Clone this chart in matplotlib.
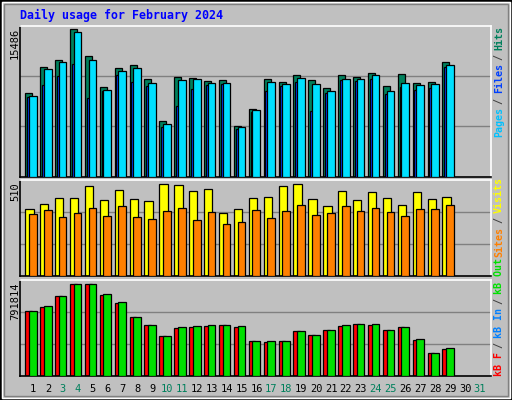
import matplotlib
matplotlib.use("Agg")
import matplotlib.pyplot as plt
from matplotlib.patches import Rectangle

days = list(range(1, 30))
day_labels = [str(d) for d in range(1, 32)]
weekend = [3, 4, 10, 11, 17, 18, 24, 25, 31]

hits = [8760, 11493, 12229, 15486, 12649, 9391, 11388, 11703, 10232, 5817, 10442, 10337, 10021, 10127,
        5291, 7078, 10232, 9916, 10652, 10127, 9286, 10652, 10442, 10862, 9496, 10757, 9811, 9916, 12019]
files = [8445, 11283, 12019, 15172, 12229, 9075, 11073, 11388, 9811, 5501, 10127, 10232, 9811, 9811,
         5186, 6973, 9916, 9706, 10337, 9706, 8970, 10232, 10232, 10652, 8970, 9811, 9601, 9706, 11703]
pages = [8340, 9601, 10547, 11808, 8234, 8970, 10652, 9916, 9496, 5186, 7393, 9180, 9601, 9706,
         4976, 6763, 8970, 9496, 9916, 6868, 8760, 10127, 10021, 10232, 8655, 9391, 9075, 9286, 11493]
visits = [371, 399, 432, 432, 499, 421, 477, 427, 416, 510, 505, 471, 482, 349,
          371, 432, 438, 499, 510, 427, 388, 471, 421, 466, 432, 394, 466, 427, 438]
sites = [344, 366, 327, 349, 377, 333, 388, 327, 316, 360, 377, 310, 355, 288,
         299, 366, 322, 360, 394, 338, 349, 388, 360, 377, 355, 333, 371, 371, 394]
kb_out = [557731, 601078, 687772, 791814, 791814, 705111, 635756, 505715, 436360, 340996, 419021, 427690,
          436360, 436360, 427690, 297649, 297649, 297649, 384343, 349666, 393013, 436360, 445029, 445029,
          393013, 419021, 314988, 193617, 236964]
kb_f = [557731, 592408, 687772, 791814, 791814, 696441, 627086, 505715, 436360, 340996, 410351, 419021,
        427690, 436360, 419021, 297649, 288979, 297649, 384343, 349666, 393013, 427690, 445029, 436360,
        393013, 419021, 306318, 193617, 228294]

W, H = 512, 400
fig = plt.figure(figsize=(W / 100, H / 100), dpi=100, facecolor="#c0c0c0")
mono = "DejaVu Sans Mono"

def fx(x): return x / W
def fy(y): return 1 - y / H

fig.patches.append(Rectangle((0, 0), 1, 1, transform=fig.transFigure, fill=False, ec="black", lw=2))
fig.patches.append(Rectangle((fx(2), fy(398)), fx(508), 396 / H, transform=fig.transFigure, fill=False, ec="white", lw=1))
fig.patches.append(Rectangle((fx(4), fy(396)), fx(504), 392 / H, transform=fig.transFigure, fill=False, ec="#808080", lw=1))

L, R = 20, 491
xlim = (0.13, 31.74)

def make_ax(top, bottom, ymax):
    ax = fig.add_axes([fx(L), fy(bottom), fx(R - L), (bottom - top) / H])
    ax.set_facecolor("#c0c0c0")
    ax.set_xlim(*xlim)
    ax.set_ylim(0, ymax)
    for g in (ymax / 3, 2 * ymax / 3):
        ax.axhline(g, color="#808080", lw=1, zorder=0.5)
    ax.set_xticks([]); ax.set_yticks([])
    for s in ("left", "bottom"):
        ax.spines[s].set_color("black")
    for s in ("top", "right"):
        ax.spines[s].set_color("white")
    for s in ax.spines.values():
        s.set_linewidth(1.2)
    return ax

ax1 = make_ax(25.5, 176.7, 15486 * 151.2 / 147.7)
ax2 = make_ax(180.3, 276.3, 510 * 96 / 92)
ax3 = make_ax(280.0, 375.7, 791814 * 95.7 / 91.4)

kw = dict(align="edge", edgecolor="black", linewidth=0.9)
ax1.bar([d - 0.52 for d in days], hits, width=0.47, color="#00805c", zorder=2, **kw)
ax1.bar([d - 0.40 for d in days], pages, width=0.40, color="#0040ff", zorder=3, **kw)
ax1.bar([d - 0.27 for d in days], files, width=0.52, color="#00e0ff", zorder=4, **kw)

ax2.bar([d - 0.52 for d in days], visits, width=0.56, color="#ffff00", zorder=2, **kw)
ax2.bar([d - 0.27 for d in days], sites, width=0.52, color="#ff8000", zorder=3, **kw)

ax3.bar([d - 0.52 for d in days], kb_f, width=0.45, color="#ff0000", zorder=2, **kw)
ax3.bar([d - 0.27 for d in days], kb_out, width=0.52, color="#00e000", zorder=3, **kw)

fig.text(fx(20), fy(15.5), "Daily usage for February 2024", family=mono, weight="bold",
         color="#0000ff", fontsize=8.4, va="center", ha="left")

for txt, ytop in (("15486", 28), ("510", 182), ("791814", 282)):
    fig.text(fx(15), fy(ytop), txt, family=mono, fontsize=7.5, rotation=90, va="top", ha="center")

for i, lab in enumerate(day_labels):
    d = i + 1
    xpix = 33 + i * 14.9
    fig.text(fx(xpix), fy(389), lab, family=mono, fontsize=7.5, ha="center", va="center",
             color="#00805c" if d in weekend else "black")

def vlabel(parts, ybot, step=5.45):
    y = ybot
    for txt, col in parts:
        fig.text(fx(499), fy(y), txt, family=mono, fontsize=7.2, rotation=90,
                 ha="center", va="bottom", color=col, weight="bold")
        y -= step * len(txt)

vlabel([("Pages", "#00c0ff"), (" / ", "#404040"), ("Files", "#0040ff"), (" / ", "#404040"), ("Hits", "#00805c")], 137)
vlabel([("Sites", "#ff8000"), (" / ", "#404040"), ("Visits", "#ffff00")], 256.7)
vlabel([("kB F", "#ff0000"), (" / ", "#404040"), ("kB In", "#0080ff"), (" / ", "#404040"), ("kB Out", "#00e000")], 375.7)

fig.savefig("out.png", dpi=100, facecolor=fig.get_facecolor())
